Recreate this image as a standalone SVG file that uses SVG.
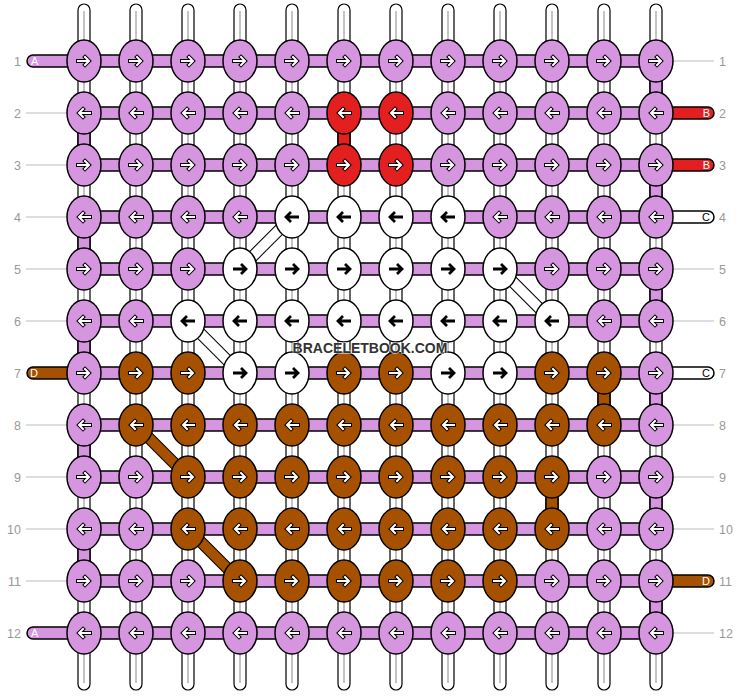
<svg xmlns="http://www.w3.org/2000/svg" xmlns:xlink="http://www.w3.org/1999/xlink" width="740" height="696" viewBox="0 0 740 696">
<style>
.p{fill:#d695df;stroke:#000;stroke-width:1.5}
.r{fill:#e3201f;stroke:#000;stroke-width:1.5}
.w{fill:#fff;stroke:#000;stroke-width:1.5}
.b{fill:#a65100;stroke:#000;stroke-width:1.5}
.tube{fill:#fff;stroke:#000;stroke-width:1.2}
.tl{stroke:#c4c4c4;stroke-width:2}
.hl{stroke:#bbb;stroke-width:1}
.num{font-family:"Liberation Sans",Arial,sans-serif;font-size:12.5px;fill:#999}
.lab{font-family:"Liberation Sans",Arial,sans-serif;font-size:11px}
.dk{stroke:#000;stroke-width:12}
</style>
<defs>
<g id="R"><path d="M-6,0H3.5M1,-4L5,0L1,4" fill="none" stroke="#000" stroke-width="4" stroke-linecap="square"/><path d="M-6,0H3.5M1,-4L5,0L1,4" fill="none" stroke="#fff" stroke-width="2" stroke-linecap="square"/></g>
<g id="L"><path d="M6,0H-3.5M-1,-4L-5,0L-1,4" fill="none" stroke="#000" stroke-width="4" stroke-linecap="square"/><path d="M6,0H-3.5M-1,-4L-5,0L-1,4" fill="none" stroke="#fff" stroke-width="2" stroke-linecap="square"/></g>
<path id="RB" d="M-7,0H5M1,-5L6,0L1,5" fill="none" stroke="#000" stroke-width="2.8"/>
<path id="LB" d="M7,0H-5M-1,-5L-6,0L-1,5" fill="none" stroke="#000" stroke-width="2.8"/>
</defs>
<rect width="740" height="696" fill="#fff"/>
<g id="labels">
<g class="hl">
<line x1="26" y1="113" x2="67" y2="113"/><line x1="26" y1="165" x2="67" y2="165"/><line x1="26" y1="217" x2="67" y2="217"/><line x1="26" y1="269" x2="67" y2="269"/><line x1="26" y1="321" x2="67" y2="321"/><line x1="26" y1="425" x2="67" y2="425"/><line x1="26" y1="477" x2="67" y2="477"/><line x1="26" y1="529" x2="67" y2="529"/><line x1="26" y1="581" x2="67" y2="581"/>
<line x1="673" y1="61" x2="714" y2="61"/><line x1="673" y1="269" x2="714" y2="269"/><line x1="673" y1="321" x2="714" y2="321"/><line x1="673" y1="425" x2="714" y2="425"/><line x1="673" y1="477" x2="714" y2="477"/><line x1="673" y1="529" x2="714" y2="529"/><line x1="673" y1="633" x2="714" y2="633"/>
</g>
<g class="num" text-anchor="end">
<text x="21" y="66">1</text><text x="21" y="118">2</text><text x="21" y="170">3</text><text x="21" y="222">4</text><text x="21" y="274">5</text><text x="21" y="326">6</text><text x="21" y="378">7</text><text x="21" y="430">8</text><text x="21" y="482">9</text><text x="21" y="534">10</text><text x="21" y="586">11</text><text x="21" y="638">12</text>
</g>
<g class="num">
<text x="719" y="66">1</text><text x="719" y="118">2</text><text x="719" y="170">3</text><text x="719" y="222">4</text><text x="719" y="274">5</text><text x="719" y="326">6</text><text x="719" y="378">7</text><text x="719" y="430">8</text><text x="719" y="482">9</text><text x="719" y="534">10</text><text x="719" y="586">11</text><text x="719" y="638">12</text>
</g>
</g>
<g id="connectors">
<g id="tubes">
<rect class="tube" x="78" y="4" width="12" height="686" rx="6"/><rect class="tube" x="130" y="4" width="12" height="686" rx="6"/><rect class="tube" x="182" y="4" width="12" height="686" rx="6"/><rect class="tube" x="234" y="4" width="12" height="686" rx="6"/><rect class="tube" x="286" y="4" width="12" height="686" rx="6"/><rect class="tube" x="338" y="4" width="12" height="686" rx="6"/><rect class="tube" x="390" y="4" width="12" height="686" rx="6"/><rect class="tube" x="442" y="4" width="12" height="686" rx="6"/><rect class="tube" x="494" y="4" width="12" height="686" rx="6"/><rect class="tube" x="546" y="4" width="12" height="686" rx="6"/><rect class="tube" x="598" y="4" width="12" height="686" rx="6"/><rect class="tube" x="650" y="4" width="12" height="686" rx="6"/>
<g class="tl"><line x1="84" y1="11" x2="84" y2="683"/><line x1="136" y1="11" x2="136" y2="683"/><line x1="188" y1="11" x2="188" y2="683"/><line x1="240" y1="11" x2="240" y2="683"/><line x1="292" y1="11" x2="292" y2="683"/><line x1="344" y1="11" x2="344" y2="683"/><line x1="396" y1="11" x2="396" y2="683"/><line x1="448" y1="11" x2="448" y2="683"/><line x1="500" y1="11" x2="500" y2="683"/><line x1="552" y1="11" x2="552" y2="683"/><line x1="604" y1="11" x2="604" y2="683"/><line x1="656" y1="11" x2="656" y2="683"/></g>
</g>
<g id="stubs">
<rect class="p" x="27" y="55" width="63" height="12" rx="6"/>
<rect class="b" x="27" y="367" width="63" height="12" rx="6"/>
<rect class="p" x="27" y="627" width="63" height="12" rx="6"/>
<rect class="r" x="650" y="107" width="64" height="12" rx="6"/>
<rect class="r" x="650" y="159" width="64" height="12" rx="6"/>
<rect class="w" x="650" y="211" width="64" height="12" rx="6"/>
<rect class="w" x="650" y="367" width="64" height="12" rx="6"/>
<rect class="b" x="650" y="575" width="64" height="12" rx="6"/>
<g class="lab">
<text x="31" y="65" fill="#fff">A</text>
<text x="30" y="377" fill="#fff">D</text>
<text x="31" y="637" fill="#fff">A</text>
<text x="710" y="117" fill="#fff" text-anchor="end">B</text>
<text x="710" y="169" fill="#fff" text-anchor="end">B</text>
<text x="710" y="221" fill="#000" text-anchor="end">C</text>
<text x="710" y="377" fill="#000" text-anchor="end">C</text>
<text x="710" y="585" fill="#fff" text-anchor="end">D</text>
</g>
</g>
<g id="rows">
<rect class="p" x="84" y="55" width="572" height="12"/><rect class="p" x="84" y="107" width="572" height="12"/><rect class="p" x="84" y="159" width="572" height="12"/><rect class="p" x="84" y="211" width="572" height="12"/><rect class="p" x="84" y="263" width="572" height="12"/><rect class="p" x="84" y="315" width="572" height="12"/><rect class="p" x="84" y="367" width="572" height="12"/><rect class="p" x="84" y="419" width="572" height="12"/><rect class="p" x="84" y="471" width="572" height="12"/><rect class="p" x="84" y="523" width="572" height="12"/><rect class="p" x="84" y="575" width="572" height="12"/><rect class="p" x="84" y="627" width="572" height="12"/>
</g>
<g id="verticals">
<rect class="p" x="650" y="61" width="12" height="52"/><rect class="p" x="650" y="165" width="12" height="52"/><rect class="p" x="650" y="269" width="12" height="52"/><rect class="p" x="650" y="373" width="12" height="52"/><rect class="p" x="650" y="477" width="12" height="52"/><rect class="p" x="650" y="581" width="12" height="52"/>
<rect class="p" x="78" y="113" width="12" height="52"/><rect class="p" x="78" y="217" width="12" height="52"/><rect class="p" x="78" y="321" width="12" height="52"/><rect class="p" x="78" y="425" width="12" height="52"/><rect class="p" x="78" y="529" width="12" height="52"/>
<rect class="r" x="338" y="113" width="12" height="52"/>
<rect class="b" x="598" y="373" width="12" height="52"/>
<rect class="b" x="546" y="477" width="12" height="52"/>
</g>
<g id="diagonals">
<line class="dk" x1="292" y1="217" x2="240" y2="269"/><line x1="292" y1="217" x2="240" y2="269" stroke="#fff" stroke-width="10"/>
<line class="dk" x1="500" y1="269" x2="552" y2="321"/><line x1="500" y1="269" x2="552" y2="321" stroke="#fff" stroke-width="10"/>
<line class="dk" x1="188" y1="321" x2="240" y2="373"/><line x1="188" y1="321" x2="240" y2="373" stroke="#fff" stroke-width="10"/>
<line class="dk" x1="136" y1="425" x2="188" y2="477"/><line x1="136" y1="425" x2="188" y2="477" stroke="#a65100" stroke-width="10"/>
<line class="dk" x1="188" y1="529" x2="240" y2="581"/><line x1="188" y1="529" x2="240" y2="581" stroke="#a65100" stroke-width="10"/>
</g>
</g>
<g id="knots">
<g id="k1_1" transform="translate(84,61)"><ellipse class="p" rx="17" ry="21"/><use href="#R"/></g>
<g id="k1_2" transform="translate(136,61)"><ellipse class="p" rx="17" ry="21"/><use href="#R"/></g>
<g id="k1_3" transform="translate(188,61)"><ellipse class="p" rx="17" ry="21"/><use href="#R"/></g>
<g id="k1_4" transform="translate(240,61)"><ellipse class="p" rx="17" ry="21"/><use href="#R"/></g>
<g id="k1_5" transform="translate(292,61)"><ellipse class="p" rx="17" ry="21"/><use href="#R"/></g>
<g id="k1_6" transform="translate(344,61)"><ellipse class="p" rx="17" ry="21"/><use href="#R"/></g>
<g id="k1_7" transform="translate(396,61)"><ellipse class="p" rx="17" ry="21"/><use href="#R"/></g>
<g id="k1_8" transform="translate(448,61)"><ellipse class="p" rx="17" ry="21"/><use href="#R"/></g>
<g id="k1_9" transform="translate(500,61)"><ellipse class="p" rx="17" ry="21"/><use href="#R"/></g>
<g id="k1_10" transform="translate(552,61)"><ellipse class="p" rx="17" ry="21"/><use href="#R"/></g>
<g id="k1_11" transform="translate(604,61)"><ellipse class="p" rx="17" ry="21"/><use href="#R"/></g>
<g id="k1_12" transform="translate(656,61)"><ellipse class="p" rx="17" ry="21"/><use href="#R"/></g>

<g id="k2_1" transform="translate(84,113)"><ellipse class="p" rx="17" ry="21"/><use href="#L"/></g>
<g id="k2_2" transform="translate(136,113)"><ellipse class="p" rx="17" ry="21"/><use href="#L"/></g>
<g id="k2_3" transform="translate(188,113)"><ellipse class="p" rx="17" ry="21"/><use href="#L"/></g>
<g id="k2_4" transform="translate(240,113)"><ellipse class="p" rx="17" ry="21"/><use href="#L"/></g>
<g id="k2_5" transform="translate(292,113)"><ellipse class="p" rx="17" ry="21"/><use href="#L"/></g>
<g id="k2_6" transform="translate(344,113)"><ellipse class="r" rx="17" ry="21"/><use href="#L"/></g>
<g id="k2_7" transform="translate(396,113)"><ellipse class="r" rx="17" ry="21"/><use href="#L"/></g>
<g id="k2_8" transform="translate(448,113)"><ellipse class="p" rx="17" ry="21"/><use href="#L"/></g>
<g id="k2_9" transform="translate(500,113)"><ellipse class="p" rx="17" ry="21"/><use href="#L"/></g>
<g id="k2_10" transform="translate(552,113)"><ellipse class="p" rx="17" ry="21"/><use href="#L"/></g>
<g id="k2_11" transform="translate(604,113)"><ellipse class="p" rx="17" ry="21"/><use href="#L"/></g>
<g id="k2_12" transform="translate(656,113)"><ellipse class="p" rx="17" ry="21"/><use href="#L"/></g>

<g id="k3_1" transform="translate(84,165)"><ellipse class="p" rx="17" ry="21"/><use href="#R"/></g>
<g id="k3_2" transform="translate(136,165)"><ellipse class="p" rx="17" ry="21"/><use href="#R"/></g>
<g id="k3_3" transform="translate(188,165)"><ellipse class="p" rx="17" ry="21"/><use href="#R"/></g>
<g id="k3_4" transform="translate(240,165)"><ellipse class="p" rx="17" ry="21"/><use href="#R"/></g>
<g id="k3_5" transform="translate(292,165)"><ellipse class="p" rx="17" ry="21"/><use href="#R"/></g>
<g id="k3_6" transform="translate(344,165)"><ellipse class="r" rx="17" ry="21"/><use href="#R"/></g>
<g id="k3_7" transform="translate(396,165)"><ellipse class="r" rx="17" ry="21"/><use href="#R"/></g>
<g id="k3_8" transform="translate(448,165)"><ellipse class="p" rx="17" ry="21"/><use href="#R"/></g>
<g id="k3_9" transform="translate(500,165)"><ellipse class="p" rx="17" ry="21"/><use href="#R"/></g>
<g id="k3_10" transform="translate(552,165)"><ellipse class="p" rx="17" ry="21"/><use href="#R"/></g>
<g id="k3_11" transform="translate(604,165)"><ellipse class="p" rx="17" ry="21"/><use href="#R"/></g>
<g id="k3_12" transform="translate(656,165)"><ellipse class="p" rx="17" ry="21"/><use href="#R"/></g>

<g id="k4_1" transform="translate(84,217)"><ellipse class="p" rx="17" ry="21"/><use href="#L"/></g>
<g id="k4_2" transform="translate(136,217)"><ellipse class="p" rx="17" ry="21"/><use href="#L"/></g>
<g id="k4_3" transform="translate(188,217)"><ellipse class="p" rx="17" ry="21"/><use href="#L"/></g>
<g id="k4_4" transform="translate(240,217)"><ellipse class="p" rx="17" ry="21"/><use href="#L"/></g>
<g id="k4_5" transform="translate(292,217)"><ellipse class="w" rx="17" ry="21"/><use href="#LB"/></g>
<g id="k4_6" transform="translate(344,217)"><ellipse class="w" rx="17" ry="21"/><use href="#LB"/></g>
<g id="k4_7" transform="translate(396,217)"><ellipse class="w" rx="17" ry="21"/><use href="#LB"/></g>
<g id="k4_8" transform="translate(448,217)"><ellipse class="w" rx="17" ry="21"/><use href="#LB"/></g>
<g id="k4_9" transform="translate(500,217)"><ellipse class="p" rx="17" ry="21"/><use href="#L"/></g>
<g id="k4_10" transform="translate(552,217)"><ellipse class="p" rx="17" ry="21"/><use href="#L"/></g>
<g id="k4_11" transform="translate(604,217)"><ellipse class="p" rx="17" ry="21"/><use href="#L"/></g>
<g id="k4_12" transform="translate(656,217)"><ellipse class="p" rx="17" ry="21"/><use href="#L"/></g>

<g id="k5_1" transform="translate(84,269)"><ellipse class="p" rx="17" ry="21"/><use href="#R"/></g>
<g id="k5_2" transform="translate(136,269)"><ellipse class="p" rx="17" ry="21"/><use href="#R"/></g>
<g id="k5_3" transform="translate(188,269)"><ellipse class="p" rx="17" ry="21"/><use href="#R"/></g>
<g id="k5_4" transform="translate(240,269)"><ellipse class="w" rx="17" ry="21"/><use href="#RB"/></g>
<g id="k5_5" transform="translate(292,269)"><ellipse class="w" rx="17" ry="21"/><use href="#RB"/></g>
<g id="k5_6" transform="translate(344,269)"><ellipse class="w" rx="17" ry="21"/><use href="#RB"/></g>
<g id="k5_7" transform="translate(396,269)"><ellipse class="w" rx="17" ry="21"/><use href="#RB"/></g>
<g id="k5_8" transform="translate(448,269)"><ellipse class="w" rx="17" ry="21"/><use href="#RB"/></g>
<g id="k5_9" transform="translate(500,269)"><ellipse class="w" rx="17" ry="21"/><use href="#RB"/></g>
<g id="k5_10" transform="translate(552,269)"><ellipse class="p" rx="17" ry="21"/><use href="#R"/></g>
<g id="k5_11" transform="translate(604,269)"><ellipse class="p" rx="17" ry="21"/><use href="#R"/></g>
<g id="k5_12" transform="translate(656,269)"><ellipse class="p" rx="17" ry="21"/><use href="#R"/></g>

<g id="k6_1" transform="translate(84,321)"><ellipse class="p" rx="17" ry="21"/><use href="#L"/></g>
<g id="k6_2" transform="translate(136,321)"><ellipse class="p" rx="17" ry="21"/><use href="#L"/></g>
<g id="k6_3" transform="translate(188,321)"><ellipse class="w" rx="17" ry="21"/><use href="#LB"/></g>
<g id="k6_4" transform="translate(240,321)"><ellipse class="w" rx="17" ry="21"/><use href="#LB"/></g>
<g id="k6_5" transform="translate(292,321)"><ellipse class="w" rx="17" ry="21"/><use href="#LB"/></g>
<g id="k6_6" transform="translate(344,321)"><ellipse class="w" rx="17" ry="21"/><use href="#LB"/></g>
<g id="k6_7" transform="translate(396,321)"><ellipse class="w" rx="17" ry="21"/><use href="#LB"/></g>
<g id="k6_8" transform="translate(448,321)"><ellipse class="w" rx="17" ry="21"/><use href="#LB"/></g>
<g id="k6_9" transform="translate(500,321)"><ellipse class="w" rx="17" ry="21"/><use href="#LB"/></g>
<g id="k6_10" transform="translate(552,321)"><ellipse class="w" rx="17" ry="21"/><use href="#LB"/></g>
<g id="k6_11" transform="translate(604,321)"><ellipse class="p" rx="17" ry="21"/><use href="#L"/></g>
<g id="k6_12" transform="translate(656,321)"><ellipse class="p" rx="17" ry="21"/><use href="#L"/></g>

<g id="k7_1" transform="translate(84,373)"><ellipse class="p" rx="17" ry="21"/><use href="#R"/></g>
<g id="k7_2" transform="translate(136,373)"><ellipse class="b" rx="17" ry="21"/><use href="#R"/></g>
<g id="k7_3" transform="translate(188,373)"><ellipse class="b" rx="17" ry="21"/><use href="#R"/></g>
<g id="k7_4" transform="translate(240,373)"><ellipse class="w" rx="17" ry="21"/><use href="#RB"/></g>
<g id="k7_5" transform="translate(292,373)"><ellipse class="w" rx="17" ry="21"/><use href="#RB"/></g>
<g id="k7_6" transform="translate(344,373)"><ellipse class="b" rx="17" ry="21"/><use href="#R"/></g>
<g id="k7_7" transform="translate(396,373)"><ellipse class="b" rx="17" ry="21"/><use href="#R"/></g>
<g id="k7_8" transform="translate(448,373)"><ellipse class="w" rx="17" ry="21"/><use href="#RB"/></g>
<g id="k7_9" transform="translate(500,373)"><ellipse class="w" rx="17" ry="21"/><use href="#RB"/></g>
<g id="k7_10" transform="translate(552,373)"><ellipse class="b" rx="17" ry="21"/><use href="#R"/></g>
<g id="k7_11" transform="translate(604,373)"><ellipse class="b" rx="17" ry="21"/><use href="#R"/></g>
<g id="k7_12" transform="translate(656,373)"><ellipse class="p" rx="17" ry="21"/><use href="#R"/></g>

<g id="k8_1" transform="translate(84,425)"><ellipse class="p" rx="17" ry="21"/><use href="#L"/></g>
<g id="k8_2" transform="translate(136,425)"><ellipse class="b" rx="17" ry="21"/><use href="#L"/></g>
<g id="k8_3" transform="translate(188,425)"><ellipse class="b" rx="17" ry="21"/><use href="#L"/></g>
<g id="k8_4" transform="translate(240,425)"><ellipse class="b" rx="17" ry="21"/><use href="#L"/></g>
<g id="k8_5" transform="translate(292,425)"><ellipse class="b" rx="17" ry="21"/><use href="#L"/></g>
<g id="k8_6" transform="translate(344,425)"><ellipse class="b" rx="17" ry="21"/><use href="#L"/></g>
<g id="k8_7" transform="translate(396,425)"><ellipse class="b" rx="17" ry="21"/><use href="#L"/></g>
<g id="k8_8" transform="translate(448,425)"><ellipse class="b" rx="17" ry="21"/><use href="#L"/></g>
<g id="k8_9" transform="translate(500,425)"><ellipse class="b" rx="17" ry="21"/><use href="#L"/></g>
<g id="k8_10" transform="translate(552,425)"><ellipse class="b" rx="17" ry="21"/><use href="#L"/></g>
<g id="k8_11" transform="translate(604,425)"><ellipse class="b" rx="17" ry="21"/><use href="#L"/></g>
<g id="k8_12" transform="translate(656,425)"><ellipse class="p" rx="17" ry="21"/><use href="#L"/></g>

<g id="k9_1" transform="translate(84,477)"><ellipse class="p" rx="17" ry="21"/><use href="#R"/></g>
<g id="k9_2" transform="translate(136,477)"><ellipse class="p" rx="17" ry="21"/><use href="#R"/></g>
<g id="k9_3" transform="translate(188,477)"><ellipse class="b" rx="17" ry="21"/><use href="#R"/></g>
<g id="k9_4" transform="translate(240,477)"><ellipse class="b" rx="17" ry="21"/><use href="#R"/></g>
<g id="k9_5" transform="translate(292,477)"><ellipse class="b" rx="17" ry="21"/><use href="#R"/></g>
<g id="k9_6" transform="translate(344,477)"><ellipse class="b" rx="17" ry="21"/><use href="#R"/></g>
<g id="k9_7" transform="translate(396,477)"><ellipse class="b" rx="17" ry="21"/><use href="#R"/></g>
<g id="k9_8" transform="translate(448,477)"><ellipse class="b" rx="17" ry="21"/><use href="#R"/></g>
<g id="k9_9" transform="translate(500,477)"><ellipse class="b" rx="17" ry="21"/><use href="#R"/></g>
<g id="k9_10" transform="translate(552,477)"><ellipse class="b" rx="17" ry="21"/><use href="#R"/></g>
<g id="k9_11" transform="translate(604,477)"><ellipse class="p" rx="17" ry="21"/><use href="#R"/></g>
<g id="k9_12" transform="translate(656,477)"><ellipse class="p" rx="17" ry="21"/><use href="#R"/></g>

<g id="k10_1" transform="translate(84,529)"><ellipse class="p" rx="17" ry="21"/><use href="#L"/></g>
<g id="k10_2" transform="translate(136,529)"><ellipse class="p" rx="17" ry="21"/><use href="#L"/></g>
<g id="k10_3" transform="translate(188,529)"><ellipse class="b" rx="17" ry="21"/><use href="#L"/></g>
<g id="k10_4" transform="translate(240,529)"><ellipse class="b" rx="17" ry="21"/><use href="#L"/></g>
<g id="k10_5" transform="translate(292,529)"><ellipse class="b" rx="17" ry="21"/><use href="#L"/></g>
<g id="k10_6" transform="translate(344,529)"><ellipse class="b" rx="17" ry="21"/><use href="#L"/></g>
<g id="k10_7" transform="translate(396,529)"><ellipse class="b" rx="17" ry="21"/><use href="#L"/></g>
<g id="k10_8" transform="translate(448,529)"><ellipse class="b" rx="17" ry="21"/><use href="#L"/></g>
<g id="k10_9" transform="translate(500,529)"><ellipse class="b" rx="17" ry="21"/><use href="#L"/></g>
<g id="k10_10" transform="translate(552,529)"><ellipse class="b" rx="17" ry="21"/><use href="#L"/></g>
<g id="k10_11" transform="translate(604,529)"><ellipse class="p" rx="17" ry="21"/><use href="#L"/></g>
<g id="k10_12" transform="translate(656,529)"><ellipse class="p" rx="17" ry="21"/><use href="#L"/></g>

<g id="k11_1" transform="translate(84,581)"><ellipse class="p" rx="17" ry="21"/><use href="#R"/></g>
<g id="k11_2" transform="translate(136,581)"><ellipse class="p" rx="17" ry="21"/><use href="#R"/></g>
<g id="k11_3" transform="translate(188,581)"><ellipse class="p" rx="17" ry="21"/><use href="#R"/></g>
<g id="k11_4" transform="translate(240,581)"><ellipse class="b" rx="17" ry="21"/><use href="#R"/></g>
<g id="k11_5" transform="translate(292,581)"><ellipse class="b" rx="17" ry="21"/><use href="#R"/></g>
<g id="k11_6" transform="translate(344,581)"><ellipse class="b" rx="17" ry="21"/><use href="#R"/></g>
<g id="k11_7" transform="translate(396,581)"><ellipse class="b" rx="17" ry="21"/><use href="#R"/></g>
<g id="k11_8" transform="translate(448,581)"><ellipse class="b" rx="17" ry="21"/><use href="#R"/></g>
<g id="k11_9" transform="translate(500,581)"><ellipse class="b" rx="17" ry="21"/><use href="#R"/></g>
<g id="k11_10" transform="translate(552,581)"><ellipse class="p" rx="17" ry="21"/><use href="#R"/></g>
<g id="k11_11" transform="translate(604,581)"><ellipse class="p" rx="17" ry="21"/><use href="#R"/></g>
<g id="k11_12" transform="translate(656,581)"><ellipse class="p" rx="17" ry="21"/><use href="#R"/></g>

<g id="k12_1" transform="translate(84,633)"><ellipse class="p" rx="17" ry="21"/><use href="#L"/></g>
<g id="k12_2" transform="translate(136,633)"><ellipse class="p" rx="17" ry="21"/><use href="#L"/></g>
<g id="k12_3" transform="translate(188,633)"><ellipse class="p" rx="17" ry="21"/><use href="#L"/></g>
<g id="k12_4" transform="translate(240,633)"><ellipse class="p" rx="17" ry="21"/><use href="#L"/></g>
<g id="k12_5" transform="translate(292,633)"><ellipse class="p" rx="17" ry="21"/><use href="#L"/></g>
<g id="k12_6" transform="translate(344,633)"><ellipse class="p" rx="17" ry="21"/><use href="#L"/></g>
<g id="k12_7" transform="translate(396,633)"><ellipse class="p" rx="17" ry="21"/><use href="#L"/></g>
<g id="k12_8" transform="translate(448,633)"><ellipse class="p" rx="17" ry="21"/><use href="#L"/></g>
<g id="k12_9" transform="translate(500,633)"><ellipse class="p" rx="17" ry="21"/><use href="#L"/></g>
<g id="k12_10" transform="translate(552,633)"><ellipse class="p" rx="17" ry="21"/><use href="#L"/></g>
<g id="k12_11" transform="translate(604,633)"><ellipse class="p" rx="17" ry="21"/><use href="#L"/></g>
<g id="k12_12" transform="translate(656,633)"><ellipse class="p" rx="17" ry="21"/><use href="#L"/></g>
</g>
<text id="watermark" x="370" y="353" text-anchor="middle" font-family="'Liberation Sans',Arial,sans-serif" font-weight="bold" font-size="14" fill="#333" stroke="#fff" stroke-width="1.5" stroke-opacity="0.7" paint-order="stroke">BRACELETBOOK.COM</text>
</svg>
